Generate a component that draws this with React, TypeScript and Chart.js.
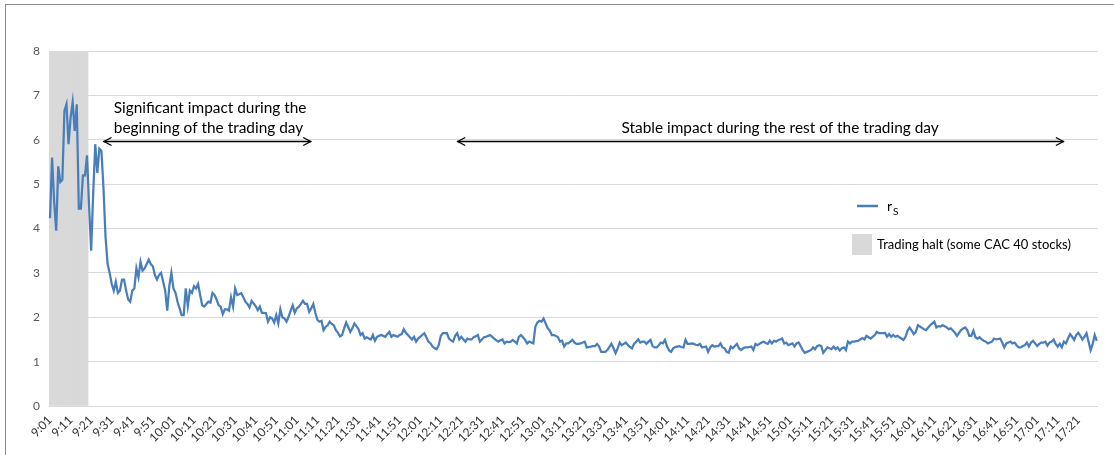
import React, { useEffect, useRef } from "react";
import { Chart, registerables } from "chart.js";

Chart.register(...registerables);

// ---- categories: one per minute ----
const firstMinute = 9 * 60 + 1; // 9:01
const lastMinute = 17 * 60 + 30; // 17:30
const labelEvery = 10;
const categories: string[] = [];
for (let m = firstMinute; m <= lastMinute; m++) {
  categories.push(`${Math.floor(m / 60)}:${String(m % 60).padStart(2, "0")}`);
}

// ---- r_S series, one value per minute ----
const rs09 = [
  4.23, 5.6, 4.6, 3.95, 5.4, 5.05, 5.1, 6.65, 6.8, 5.9,
  6.5, 6.85, 6.2, 6.8, 4.45, 4.45, 5.2, 5.2, 5.65, 4.5,
  3.5, 4.8, 5.9, 5.25, 5.8, 5.75, 4.9, 3.8, 3.2, 3.0,
  2.75, 2.6, 2.8, 2.55, 2.6, 2.85, 2.85, 2.6, 2.4, 2.35,
  2.6, 2.65, 3.1, 2.9, 3.25, 3.05, 3.1, 3.2, 3.3, 3.2,
  3.15, 2.95, 2.85, 2.95, 3.0, 2.8, 2.6, 2.15, 2.7, 3.0,
];
const rs10 = [
  2.65, 2.55, 2.35, 2.2, 2.05, 2.05, 2.65, 2.25, 2.6, 2.55,
  2.7, 2.65, 2.75, 2.5, 2.27, 2.24, 2.3, 2.35, 2.33, 2.55,
  2.5, 2.4, 2.27, 2.24, 2.07, 2.18, 2.18, 2.15, 2.45, 2.24,
  2.65, 2.5, 2.52, 2.54, 2.45, 2.35, 2.3, 2.22, 2.37, 2.31,
  2.25, 2.16, 2.24, 2.1, 2.1, 2.09, 1.9, 2.0, 1.97, 1.88,
  2.05, 1.86, 2.18, 2.0, 1.97, 1.9, 2.01, 2.15, 2.27, 2.1,
];
const rs11 = [
  2.2, 2.24, 2.3, 2.37, 2.3, 2.3, 2.12, 2.2, 2.3, 2.1,
  1.94, 1.9, 1.92, 1.71, 1.78, 1.82, 1.9, 1.85, 1.82, 1.71,
  1.65, 1.57, 1.6, 1.75, 1.88, 1.78, 1.67, 1.75, 1.86, 1.8,
  1.73, 1.6, 1.64, 1.52, 1.55, 1.52, 1.5, 1.6, 1.47, 1.56,
  1.58, 1.6, 1.58, 1.56, 1.62, 1.67, 1.56, 1.6, 1.58, 1.56,
  1.6, 1.62, 1.73, 1.65, 1.6, 1.55, 1.5, 1.56, 1.45, 1.52,
];
const rs12 = [
  1.56, 1.6, 1.64, 1.55, 1.45, 1.41, 1.34, 1.3, 1.28, 1.37,
  1.58, 1.64, 1.64, 1.64, 1.52, 1.48, 1.45, 1.58, 1.64, 1.5,
  1.56, 1.5, 1.45, 1.52, 1.5, 1.5, 1.55, 1.57, 1.6, 1.45,
  1.5, 1.55, 1.56, 1.58, 1.6, 1.56, 1.52, 1.48, 1.45, 1.48,
  1.5, 1.41, 1.45, 1.44, 1.45, 1.49, 1.45, 1.41, 1.56, 1.6,
  1.55, 1.49, 1.41, 1.45, 1.43, 1.41, 1.79, 1.88, 1.92, 1.9,
];
const rs13 = [
  1.97, 1.86, 1.75, 1.7, 1.6, 1.6, 1.58, 1.55, 1.45, 1.47,
  1.34, 1.41, 1.41, 1.45, 1.49, 1.43, 1.4, 1.4, 1.41, 1.43,
  1.45, 1.32, 1.33, 1.34, 1.35, 1.35, 1.4, 1.34, 1.22, 1.22,
  1.22, 1.26, 1.33, 1.4, 1.3, 1.19, 1.3, 1.43, 1.37, 1.4,
  1.43, 1.37, 1.33, 1.3, 1.4, 1.45, 1.5, 1.43, 1.45, 1.45,
  1.4, 1.45, 1.49, 1.35, 1.32, 1.32, 1.37, 1.43, 1.41, 1.49,
];
const rs14 = [
  1.35, 1.25, 1.22, 1.3, 1.33, 1.34, 1.35, 1.33, 1.32, 1.49,
  1.4, 1.4, 1.41, 1.4, 1.38, 1.37, 1.4, 1.32, 1.33, 1.34,
  1.22, 1.32, 1.37, 1.34, 1.35, 1.35, 1.41, 1.32, 1.3, 1.22,
  1.2, 1.34, 1.3, 1.35, 1.4, 1.3, 1.26, 1.3, 1.32, 1.32,
  1.33, 1.34, 1.26, 1.4, 1.37, 1.4, 1.43, 1.45, 1.42, 1.4,
  1.47, 1.41, 1.47, 1.45, 1.48, 1.5, 1.52, 1.41, 1.43, 1.37,
];
const rs15 = [
  1.39, 1.41, 1.34, 1.41, 1.43, 1.35, 1.26, 1.2, 1.22, 1.24,
  1.26, 1.32, 1.28, 1.35, 1.37, 1.35, 1.2, 1.26, 1.32, 1.3,
  1.28, 1.34, 1.28, 1.32, 1.25, 1.3, 1.32, 1.26, 1.45, 1.41,
  1.45, 1.45, 1.46, 1.47, 1.5, 1.53, 1.5, 1.58, 1.55, 1.52,
  1.56, 1.6, 1.67, 1.64, 1.64, 1.64, 1.65, 1.56, 1.62, 1.56,
  1.6, 1.56, 1.58, 1.55, 1.52, 1.49, 1.56, 1.7, 1.77, 1.7,
];
const rs16 = [
  1.62, 1.67, 1.82, 1.79, 1.76, 1.73, 1.71, 1.77, 1.82, 1.86,
  1.9, 1.77, 1.8, 1.79, 1.82, 1.8, 1.77, 1.73, 1.75, 1.7,
  1.65, 1.58, 1.65, 1.71, 1.75, 1.77, 1.71, 1.58, 1.58, 1.7,
  1.55, 1.52, 1.55, 1.5, 1.47, 1.45, 1.41, 1.43, 1.45, 1.52,
  1.5, 1.51, 1.52, 1.43, 1.32, 1.41, 1.43, 1.45, 1.41, 1.43,
  1.37, 1.32, 1.32, 1.35, 1.37, 1.43, 1.34, 1.43, 1.47, 1.41,
];
const rs17 = [
  1.35, 1.4, 1.43, 1.43, 1.45, 1.36, 1.43, 1.45, 1.5, 1.4,
  1.34, 1.4, 1.32, 1.45, 1.41, 1.52, 1.62, 1.56, 1.49, 1.6,
  1.65, 1.58, 1.5, 1.56, 1.64, 1.45, 1.26, 1.4, 1.6, 1.47,
];
const rsValues = [...rs09, ...rs10, ...rs11, ...rs12, ...rs13, ...rs14, ...rs15, ...rs16, ...rs17];

// ---- trading halt shading ----
const haltStartLabel = "9:01";
const haltEndLabel = "9:19";
const haltLevel = 8;

// ---- axis ----
const yMin = 0;
const yMax = 8;
const yStep = 1;

// ---- annotations ----
const arrows = [
  { from: "9:27", to: "11:08", value: 5.97 },
  { from: "12:19", to: "17:14", value: 5.97 },
];
const notes = [
  { lines: ["Significant impact during the", "beginning of the trading day"], at: "9:32", value: 6.6, align: "left" as CanvasTextAlign },
  { lines: ["Stable impact during the rest of the trading day"], at: "14:56", value: 6.15, align: "center" as CanvasTextAlign },
];

// ---- legend text ----
const seriesName = "r";
const seriesSub = "S";
const haltName = "Trading halt (some CAC 40 stocks)";

const BLUE = "#4a7ebb";
const GREY = "#d9d9d9";
const FONT = "Lato";

const overlayPlugin = {
  id: "overlay",
  afterDatasetsDraw(chart: any) {
    const { ctx } = chart;
    const xs = chart.scales.x;
    const ys = chart.scales.y;
    ctx.save();
    // arrows
    ctx.strokeStyle = "#000";
    ctx.lineWidth = 1.3;
    arrows.forEach((a) => {
      const x1 = xs.getPixelForValue(categories.indexOf(a.from));
      const x2 = xs.getPixelForValue(categories.indexOf(a.to));
      const yy = Math.round(ys.getPixelForValue(a.value)) + 0.5;
      ctx.beginPath();
      ctx.moveTo(x1, yy);
      ctx.lineTo(x2, yy);
      ctx.stroke();
      ctx.beginPath();
      ctx.moveTo(x1 + 8, yy - 4);
      ctx.lineTo(x1 + 0.5, yy);
      ctx.lineTo(x1 + 8, yy + 4);
      ctx.moveTo(x2 - 8, yy - 4);
      ctx.lineTo(x2 - 0.5, yy);
      ctx.lineTo(x2 - 8, yy + 4);
      ctx.stroke();
    });
    // notes
    ctx.fillStyle = "#000";
    ctx.font = `15.4px ${FONT}`;
    ctx.textBaseline = "alphabetic";
    notes.forEach((n) => {
      const x = xs.getPixelForValue(categories.indexOf(n.at));
      const y0 = ys.getPixelForValue(n.value);
      ctx.textAlign = n.align;
      n.lines.forEach((ln, i) => ctx.fillText(ln, x, y0 + i * 20));
    });
    // legend
    ctx.textAlign = "left";
    ctx.strokeStyle = BLUE;
    ctx.lineWidth = 2.5;
    ctx.beginPath();
    ctx.moveTo(857, 206);
    ctx.lineTo(878, 206);
    ctx.stroke();
    ctx.fillStyle = "#000";
    ctx.font = `14px ${FONT}`;
    ctx.fillText(seriesName, 887, 211);
    const rw = ctx.measureText(seriesName).width;
    ctx.font = `10px ${FONT}`;
    ctx.fillText(seriesSub, 887 + rw + 1, 215);
    ctx.fillStyle = GREY;
    ctx.fillRect(852, 234, 20, 21);
    ctx.fillStyle = "#000";
    ctx.font = `13px ${FONT}`;
    ctx.fillText(haltName, 877, 249);
    ctx.restore();
  },
};

export default function App() {
  const ref = useRef<HTMLCanvasElement | null>(null);
  useEffect(() => {
    if (!ref.current) return;
    const hs = categories.indexOf(haltStartLabel);
    const he = categories.indexOf(haltEndLabel);
    const haltData = categories.map((_, i) => (i >= hs && i <= he ? haltLevel : null));
    const chart = new Chart(ref.current, {
      type: "bar",
      data: {
        labels: categories,
        datasets: [
          {
            type: "line",
            label: seriesName + seriesSub,
            data: rsValues,
            borderColor: BLUE,
            backgroundColor: BLUE,
            borderWidth: 2.25,
            pointRadius: 0,
            tension: 0,
            fill: false,
            order: 0,
          } as any,
          {
            type: "bar",
            label: haltName,
            data: haltData,
            backgroundColor: GREY,
            borderWidth: 0,
            barPercentage: 1,
            categoryPercentage: 1,
            order: 1,
          } as any,
        ],
      },
      options: {
        animation: false,
        responsive: false,
        maintainAspectRatio: false,
        layout: { padding: { left: 0, top: 51, right: 13, bottom: 0 } },
        plugins: { legend: { display: false }, tooltip: { enabled: false } },
        scales: {
          x: {
            type: "category",
            offset: true,
            grid: { display: false, drawTicks: false },
            border: { display: true, color: GREY },
            ticks: {
              autoSkip: false,
              minRotation: 45,
              maxRotation: 45,
              padding: 7,
              color: "#333333",
              font: { family: FONT, size: 12 },
              callback: (_v: any, i: number) => (i % labelEvery === 0 ? categories[i] : ""),
            },
            afterFit: (s: any) => {
              s.height = 49;
            },
          },
          y: {
            min: yMin,
            max: yMax,
            ticks: { stepSize: yStep, padding: 9, color: "#595959", font: { family: FONT, size: 12 } },
            grid: { color: GREY, drawTicks: false },
            border: { display: true, color: GREY },
            afterFit: (s: any) => {
              s.width = 49;
            },
          },
        },
      } as any,
      plugins: [overlayPlugin],
    });
    return () => chart.destroy();
  }, []);
  return (
    <div style={{ position: "relative", width: 1114, height: 455, background: "#fff" }}>
      <style>{`body{margin:0;}`}</style>
      <div
        style={{
          position: "absolute",
          left: 5,
          top: 4,
          right: 0,
          bottom: 0,
          borderLeft: "1px solid #8c8c8c",
          borderTop: "1px solid #8c8c8c",
        }}
      />
      <canvas ref={ref} width={1114} height={455} style={{ position: "absolute", left: 0, top: 0 }} />
    </div>
  );
}
